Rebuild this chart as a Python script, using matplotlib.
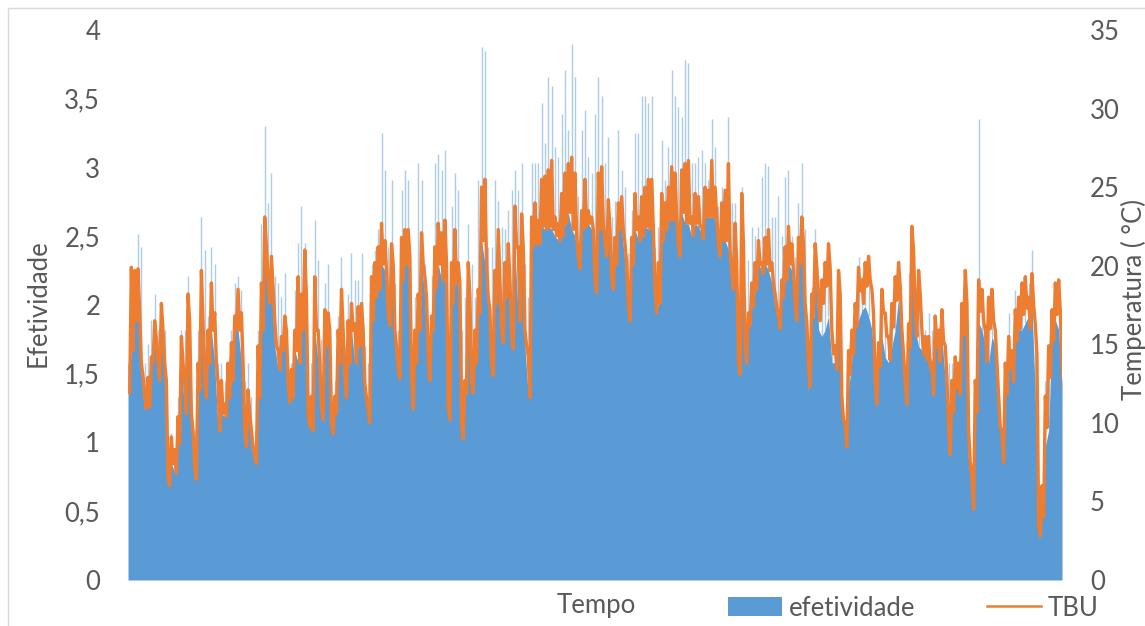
import numpy as np
import matplotlib.pyplot as plt
from matplotlib.patches import Patch, Rectangle
from matplotlib.lines import Line2D

plt.rcParams['font.family'] = ['Lato', 'DejaVu Sans']

# TBU (°C), upper edge of the orange band, read left to right off the chart
tbu = [
    12.0, 19.9, 19.7, 19.8, 13.8, 11.7, 12.9, 14.2, 16.5, 14.0, 17.6, 13.8, 6.6, 9.1, 8.3, 10.4,
    15.5, 12.5, 18.2, 10.6, 7.2, 13.8, 19.7, 12.7, 15.9, 18.9, 17.0, 12.5, 12.7, 11.2, 13.8, 15.1,
    16.8, 18.5, 17.0, 9.5, 12.1, 9.5, 7.9, 14.9, 18.9, 23.1, 18.9, 20.6, 16.5, 14.6, 15.5, 16.8,
    12.7, 13.4, 15.9, 19.3, 18.2, 21.0, 10.6, 11.7, 19.3, 15.9, 11.0, 17.2, 17.0, 10.0, 11.7, 15.9,
    18.5, 12.7, 16.5, 17.6, 16.3, 17.4, 17.6, 12.5, 10.8, 19.3, 20.2, 21.2, 22.7, 21.6, 17.0, 21.4,
    15.9, 13.6, 21.8, 22.3, 22.3, 12.9, 15.9, 18.2, 22.1, 19.3, 14.2, 16.8, 21.2, 22.7, 22.1, 22.9,
    11.0, 20.2, 22.3, 20.2, 10.0, 12.7, 20.2, 12.7, 15.9, 18.5, 25.0, 25.5, 18.0, 13.8, 19.7, 22.3,
    15.9, 20.2, 21.4, 15.5, 23.8, 21.2, 23.3, 15.9, 14.2, 23.1, 24.0, 22.9, 25.5, 25.7, 26.1, 26.7,
    23.1, 22.7, 24.6, 25.9, 26.5, 26.9, 25.9, 20.6, 23.5, 25.5, 23.5, 23.1, 19.1, 25.9, 26.3, 21.4,
    24.2, 19.3, 21.8, 24.0, 24.4, 21.4, 17.6, 21.8, 24.6, 23.1, 24.4, 25.0, 25.5, 25.5, 18.5, 20.2,
    24.6, 24.0, 25.0, 26.3, 25.9, 21.4, 26.1, 26.5, 26.7, 23.1, 24.6, 24.4, 22.5, 25.0, 24.8, 26.7,
    25.0, 21.4, 24.0, 24.8, 26.5, 19.7, 22.7, 14.0, 24.6, 14.9, 17.0, 18.9, 20.2, 21.6, 20.2, 21.8,
    22.3, 20.2, 18.2, 16.8, 19.1, 21.2, 22.5, 21.4, 17.6, 21.8, 23.1, 17.6, 13.8, 18.2, 21.4, 18.0,
    19.1, 20.2, 21.4, 15.9, 14.9, 19.7, 11.7, 10.0, 14.6, 15.9, 17.6, 19.9, 19.1, 20.2, 20.6, 18.5,
    12.7, 15.1, 18.5, 17.0, 15.5, 17.6, 19.3, 20.2, 15.9, 12.7, 16.3, 22.5, 17.0, 19.7, 15.9, 15.5,
    15.5, 13.8, 16.8, 15.9, 17.2, 14.9, 10.0, 12.7, 14.2, 13.8, 17.6, 19.7, 9.5, 6.5, 12.7, 19.1,
    18.5, 15.9, 18.0, 18.5, 15.9, 11.7, 9.5, 13.8, 15.5, 14.6, 17.2, 18.0, 18.9, 19.3, 18.0, 19.5,
    16.3, 3.5, 6.0, 11.7, 14.9, 17.2, 18.9, 19.1, 13.8,
]

# TBU (°C), lower edge of the orange band (daily swing)
tbu_baixo = [
    11.9, 14.6, 16.5, 17.0, 13.0, 10.9, 11.0, 13.8, 15.3, 12.7, 15.9, 12.7, 6.0, 7.4, 6.8, 8.7,
    13.8, 10.6, 16.4, 9.5, 6.4, 12.1, 16.4, 11.6, 13.8, 15.9, 13.8, 9.5, 10.6, 10.4, 11.6, 12.7,
    15.9, 15.9, 13.8, 8.5, 10.6, 8.5, 7.4, 11.6, 15.9, 21.2, 17.6, 18.5, 14.9, 13.4, 14.6, 15.9,
    11.3, 11.6, 14.6, 13.8, 15.9, 18.0, 9.8, 9.5, 15.9, 13.8, 10.2, 14.9, 15.9, 9.3, 10.6, 13.8,
    15.9, 11.6, 13.8, 15.9, 13.8, 14.9, 15.9, 11.6, 10.0, 16.5, 18.0, 18.5, 20.1, 19.7, 16.2, 20.1,
    14.9, 12.8, 19.1, 20.1, 20.6, 10.9, 13.8, 15.9, 20.1, 18.0, 12.7, 15.9, 18.6, 20.1, 19.1, 20.1,
    10.2, 17.6, 18.9, 18.9, 9.0, 11.9, 18.0, 11.9, 13.8, 17.0, 21.6, 20.1, 17.2, 13.0, 17.6, 19.1,
    15.1, 18.0, 19.1, 14.7, 21.2, 16.5, 21.2, 14.9, 11.6, 21.2, 21.4, 21.4, 22.5, 22.3, 22.5, 22.3,
    21.9, 21.6, 21.9, 22.7, 23.4, 22.3, 21.9, 19.8, 22.3, 22.5, 22.7, 22.3, 18.3, 22.3, 22.7, 20.6,
    22.3, 18.5, 20.1, 22.3, 22.3, 20.1, 16.5, 20.1, 22.3, 21.6, 21.9, 22.5, 22.3, 22.3, 17.0, 17.6,
    21.6, 22.3, 22.9, 22.9, 23.1, 20.6, 23.4, 22.7, 22.7, 21.9, 22.7, 22.5, 21.7, 23.1, 23.1, 23.1,
    23.1, 20.6, 21.6, 21.6, 21.0, 18.5, 20.1, 13.1, 21.4, 13.8, 16.2, 17.4, 18.5, 20.1, 19.5, 20.1,
    19.7, 18.9, 17.4, 16.0, 18.0, 19.1, 20.1, 19.7, 16.5, 20.1, 21.4, 16.4, 12.3, 16.7, 19.9, 16.5,
    17.6, 18.7, 19.9, 14.4, 13.4, 18.2, 10.2, 8.5, 13.1, 14.4, 16.1, 18.4, 17.6, 18.7, 19.1, 17.0,
    11.2, 13.6, 17.0, 15.5, 14.0, 16.1, 17.8, 18.7, 14.4, 11.2, 14.8, 21.0, 15.5, 18.2, 14.4, 14.0,
    13.5, 11.8, 14.8, 13.9, 15.2, 12.9, 8.0, 10.7, 12.2, 11.8, 15.6, 17.7, 7.5, 4.5, 10.7, 17.1,
    16.5, 13.9, 16.0, 16.5, 13.9, 9.7, 7.5, 11.8, 13.5, 12.6, 15.2, 16.0, 16.9, 17.3, 16.0, 17.5,
    14.3, 2.8, 4.0, 9.7, 12.9, 15.2, 16.9, 17.1, 11.8,
]

# efetividade: top of the solid blue area
efetividade = [
    1.36, 1.67, 1.89, 1.94, 1.58, 1.24, 1.26, 1.58, 1.75, 1.45, 1.82, 1.45, 0.68, 0.85, 0.78, 0.99,
    1.58, 1.21, 1.87, 1.09, 0.80, 1.38, 1.87, 1.33, 1.58, 1.82, 1.58, 1.09, 1.21, 1.19, 1.33, 1.45,
    1.82, 1.82, 1.58, 0.97, 1.21, 0.97, 0.85, 1.33, 1.82, 2.42, 2.01, 2.11, 1.70, 1.53, 1.67, 1.82,
    1.29, 1.33, 1.67, 1.58, 1.82, 2.06, 1.21, 1.09, 1.82, 1.58, 1.21, 1.70, 1.82, 1.12, 1.21, 1.58,
    1.82, 1.33, 1.58, 1.82, 1.58, 1.70, 1.82, 1.33, 1.21, 1.89, 2.06, 2.11, 2.30, 2.25, 1.92, 2.30,
    1.70, 1.53, 2.18, 2.30, 2.35, 1.24, 1.58, 1.82, 2.30, 2.06, 1.45, 1.82, 2.13, 2.30, 2.18, 2.30,
    1.24, 2.01, 2.16, 2.16, 1.09, 1.45, 2.06, 1.43, 1.58, 1.94, 2.47, 2.30, 1.99, 1.58, 2.01, 2.18,
    1.82, 2.06, 2.18, 1.82, 2.42, 1.89, 2.42, 1.70, 1.33, 2.42, 2.45, 2.45, 2.57, 2.55, 2.57, 2.55,
    2.50, 2.47, 2.50, 2.59, 2.67, 2.55, 2.50, 2.30, 2.55, 2.57, 2.59, 2.55, 2.30, 2.55, 2.59, 2.40,
    2.55, 2.11, 2.30, 2.55, 2.55, 2.30, 1.89, 2.30, 2.55, 2.47, 2.50, 2.57, 2.55, 2.55, 1.94, 2.01,
    2.47, 2.55, 2.62, 2.62, 2.64, 2.42, 2.67, 2.59, 2.59, 2.50, 2.59, 2.57, 2.52, 2.64, 2.64, 2.64,
    2.64, 2.35, 2.47, 2.47, 2.40, 2.11, 2.30, 1.50, 2.45, 1.58, 1.87, 1.99, 2.11, 2.30, 2.25, 2.30,
    2.25, 2.16, 1.99, 1.89, 2.06, 2.18, 2.30, 2.25, 1.89, 2.30, 2.45, 1.87, 1.38, 1.89, 2.30, 1.82,
    1.77, 1.82, 1.92, 1.58, 1.58, 2.06, 1.26, 1.07, 1.38, 1.60, 1.87, 1.89, 1.96, 1.99, 1.92, 1.82,
    1.48, 1.58, 1.77, 1.62, 1.58, 1.70, 1.82, 2.06, 1.70, 1.38, 1.92, 2.23, 1.82, 1.70, 1.67, 1.67,
    1.67, 1.58, 1.72, 1.67, 1.77, 1.45, 1.09, 1.43, 1.43, 1.45, 1.82, 1.94, 0.85, 0.70, 1.33, 1.87,
    1.82, 1.70, 1.58, 1.77, 1.70, 1.21, 1.02, 1.41, 1.67, 1.58, 1.87, 1.82, 1.82, 1.87, 1.92, 2.01,
    1.33, 0.30, 0.62, 0.97, 1.09, 1.82, 1.89, 1.82, 1.43,
]

# efetividade: thin spikes reaching above the solid area
efetividade_pico = [
    1.58, 1.89, 2.25, 2.52, 2.42, 1.58, 1.72, 1.89, 2.08, 1.82, 2.01, 1.82, 0.97, 1.07, 0.90, 1.33,
    1.82, 1.82, 2.21, 1.33, 1.09, 1.82, 2.64, 2.40, 1.92, 2.42, 2.30, 1.58, 1.58, 1.45, 1.58, 1.82,
    2.16, 2.21, 2.11, 1.45, 1.58, 1.33, 1.09, 1.82, 2.59, 3.30, 2.74, 2.96, 2.21, 2.16, 2.06, 2.23,
    1.58, 1.58, 2.11, 2.45, 2.72, 2.45, 1.58, 1.58, 2.62, 2.33, 1.75, 2.16, 2.30, 1.45, 1.45, 1.92,
    2.35, 1.70, 2.08, 2.38, 2.18, 2.18, 2.38, 1.70, 1.58, 2.30, 2.40, 2.55, 3.25, 2.98, 2.42, 2.91,
    2.16, 1.82, 2.84, 2.98, 2.91, 1.58, 2.06, 3.03, 2.91, 2.30, 1.82, 2.21, 3.03, 3.10, 2.98, 3.13,
    1.70, 2.72, 2.96, 2.84, 1.82, 2.06, 2.59, 2.30, 2.06, 2.91, 3.88, 3.85, 2.42, 2.42, 2.91, 2.76,
    2.57, 2.55, 2.69, 2.84, 2.98, 2.84, 3.03, 2.30, 2.06, 3.03, 3.03, 3.03, 3.47, 3.18, 3.66, 3.59,
    3.15, 3.08, 3.39, 3.71, 3.27, 3.90, 3.66, 2.79, 3.27, 3.42, 3.08, 2.96, 3.39, 3.66, 3.52, 3.03,
    3.22, 2.64, 2.76, 3.27, 2.98, 2.86, 2.38, 2.69, 3.25, 3.25, 3.52, 3.52, 3.47, 3.52, 2.42, 2.57,
    3.20, 2.91, 3.15, 3.71, 3.52, 3.44, 3.37, 3.78, 3.76, 3.03, 3.03, 3.08, 3.13, 3.03, 2.91, 3.35,
    3.15, 2.72, 2.86, 2.84, 3.37, 2.74, 2.74, 1.87, 2.86, 2.06, 2.33, 2.57, 2.50, 2.57, 2.93, 3.03,
    3.01, 2.64, 2.64, 2.79, 2.50, 2.93, 2.98, 2.50, 2.35, 2.74, 3.03, 2.55, 1.72, 2.13, 2.55, 2.06,
    2.16, 2.30, 2.45, 1.82, 1.70, 2.25, 1.33, 1.14, 1.67, 1.82, 2.01, 2.35, 2.21, 2.30, 2.35, 2.11,
    1.58, 1.72, 2.11, 1.94, 1.77, 2.01, 2.21, 2.33, 1.82, 1.45, 2.23, 2.57, 1.94, 2.25, 1.82, 1.82,
    1.94, 1.82, 1.87, 1.84, 1.96, 1.70, 1.58, 1.58, 1.62, 1.62, 2.01, 2.25, 1.09, 0.85, 1.45, 3.35,
    2.11, 1.82, 2.06, 2.11, 1.82, 1.33, 1.09, 1.58, 1.94, 1.67, 2.11, 2.06, 2.16, 2.21, 2.16, 2.40,
    1.87, 0.40, 0.70, 1.45, 1.70, 1.96, 2.16, 2.18, 1.58,
]

ticks_esq = [0, 0.5, 1, 1.5, 2, 2.5, 3, 3.5, 4]
rotulos_esq = ["0", "0,5", "1", "1,5", "2", "2,5", "3", "3,5", "4"]
ticks_dir = [0, 5, 10, 15, 20, 25, 30, 35]

azul = "#5B9BD5"
laranja = "#ED7D31"
cinza = "#595959"
fs = 18.5

n = min(len(tbu), len(tbu_baixo), len(efetividade), len(efetividade_pico))
t = np.arange(n)
ef = np.array(efetividade[:n])
pico = np.array(efetividade_pico[:n])

# orange line zig-zags between the band's upper and lower edge
t_zz = np.column_stack([t, t + 0.5]).ravel()
tbu_zz = np.column_stack([tbu[:n], tbu_baixo[:n]]).ravel()

fig = plt.figure(figsize=(11.45, 6.26), dpi=100)
fig.patches.append(Rectangle((8 / 1145, -0.2), 1.2, 1.2 - 8 / 626, transform=fig.transFigure,
                             fill=False, edgecolor="#D9D9D9", lw=1.0))

ax = fig.add_axes([128 / 1145, 46 / 626, 934 / 1145, 550 / 626])
ax.fill_between(t, 0, ef, color=azul, lw=0, zorder=2)
ax.vlines(t, ef, pico, color=azul, lw=1.0, alpha=0.5, zorder=2)
ax.set_xlim(0, n - 1)
ax.set_ylim(0, 4)
ax.set_yticks(ticks_esq)
ax.set_yticklabels(rotulos_esq)
ax.set_xticks([])

ax2 = ax.twinx()
ax2.plot(t_zz, tbu_zz, color=laranja, lw=2.4)
ax2.set_ylim(0, 35)
ax2.set_yticks(ticks_dir)

for a in (ax, ax2):
    for s in a.spines.values():
        s.set_visible(False)
    a.tick_params(axis="y", length=0, pad=20, labelsize=fs, labelcolor=cinza)

fig.text(38 / 1145, 1 - 303 / 626, "Efetividade", rotation=90, ha="center", va="center",
         fontsize=fs, color=cinza)
fig.text(1134 / 1145, 1 - 300 / 626, "Temperatura ( °C)", rotation=90, ha="center", va="center",
         fontsize=fs, color=cinza)
fig.text(596 / 1145, 1 - 606 / 626, "Tempo", ha="center", va="center", fontsize=fs, color=cinza)

handles = [Patch(facecolor=azul, edgecolor="none"), Line2D([], [], color=laranja, lw=1.8)]
fig.legend(handles, ["efetividade", "TBU"], loc="center left", ncol=2, frameon=False,
           bbox_to_anchor=(728 / 1145, 1 - 608 / 626), borderpad=0, borderaxespad=0,
           handlelength=2.1, handleheight=0.75, handletextpad=0.25, columnspacing=2.8,
           fontsize=fs, labelcolor=cinza)

fig.savefig("out.png", dpi=100)
